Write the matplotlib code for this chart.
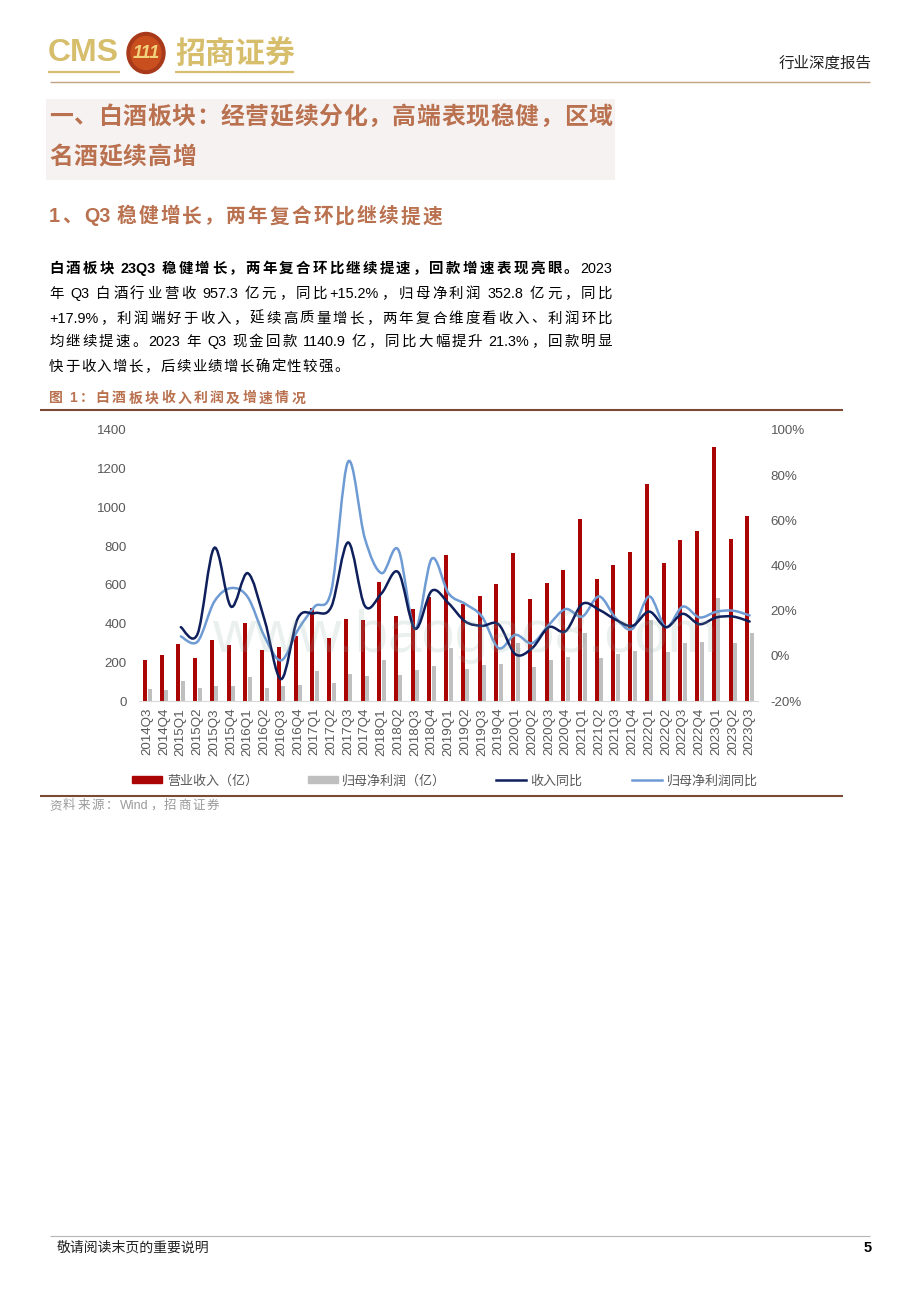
import re
import numpy as np
import matplotlib
matplotlib.use("Agg")
import matplotlib.pyplot as plt
from matplotlib.lines import Line2D
from matplotlib.patches import Ellipse, Patch, PathPatch, Rectangle
from matplotlib.path import Path

plt.rcParams['font.family'] = ['Liberation Sans', 'Noto Sans CJK SC', 'DejaVu Sans']

quarters = ['2014Q3', '2014Q4', '2015Q1', '2015Q2', '2015Q3', '2015Q4', '2016Q1', '2016Q2',
            '2016Q3', '2016Q4', '2017Q1', '2017Q2', '2017Q3', '2017Q4', '2018Q1', '2018Q2',
            '2018Q3', '2018Q4', '2019Q1', '2019Q2', '2019Q3', '2019Q4', '2020Q1', '2020Q2',
            '2020Q3', '2020Q4', '2021Q1', '2021Q2', '2021Q3', '2021Q4', '2022Q1', '2022Q2',
            '2022Q3', '2022Q4', '2023Q1', '2023Q2', '2023Q3']
revenue = [212, 236, 295, 222, 313, 289, 403, 263, 281, 336, 479, 324, 424, 417, 613, 441,
           475, 535, 754, 501, 541, 606, 763, 527, 608, 675, 938, 630, 701, 768, 1121, 711,
           830, 876, 1312, 837, 957]
profit = [62, 57, 103, 67, 77, 76, 126, 69, 77, 84, 155, 91, 141, 129, 213, 134,
          160, 182, 274, 165, 186, 189, 300, 176, 212, 227, 351, 222, 244, 258, 420, 251,
          298, 303, 534, 300, 353]
# 同比从 2015Q1 开始
revenue_yoy = [12.7, 9.7, 47.8, 21.8, 36.6, 16.0, -10.3, 16.7, 18.9, 21.8, 50.2, 22.1, 27.7,
               37.0, 12.0, 28.8, 23.3, 15.2, 13.3, 13.9, 0.7, 3.4, 12.7, 10.9, 23.0, 20.4,
               16.0, 13.3, 19.6, 12.7, 18.6, 14.0, 17.0, 17.4, 15.2]
profit_yoy = [8.6, 6.3, 24.0, 30.0, 26.0, 8.6, -2.0, 11.5, 21.8, 29.0, 86.0, 52.0, 36.6,
              47.0, 12.0, 43.0, 27.7, 23.0, 17.4, 3.4, 9.3, 5.6, 13.7, 20.7, 17.4, 26.3,
              16.7, 12.0, 26.3, 12.7, 21.8, 17.0, 19.5, 20.0, 17.9]
left_ticks = [0, 200, 400, 600, 800, 1000, 1200, 1400]
right_ticks = [-20, 0, 20, 40, 60, 80, 100]

RED = '#AA0404'
GRAY = '#BFBFBF'
NAVY = '#0E1F5C'
BLUE = '#6E9BD3'
TICK = '#595959'
HEAD = '#B9714F'
GOLD = '#D6BE6C'
RULE = '#7A4A35'


def smooth_path(xs, ys):
    # 类似 Excel 的平滑线，只影响线段形状
    pts = np.column_stack([xs, ys])
    verts = [pts[0]]
    codes = [Path.MOVETO]
    for i in range(len(pts) - 1):
        prev = pts[max(i - 1, 0)]
        nxt = pts[min(i + 2, len(pts) - 1)]
        verts += [pts[i] + (pts[i + 1] - prev) / 6, pts[i + 1] - (nxt - pts[i]) / 6, pts[i + 1]]
        codes += [Path.CURVE4] * 3
    return Path(verts, codes)


fig = plt.figure(figsize=(9.2, 13.02), dpi=100)

# 页面元素用像素坐标
page = fig.add_axes([0, 0, 1, 1], zorder=-1)
page.set_xlim(0, 920)
page.set_ylim(1302, 0)
page.axis('off')


def rule(x0, x1, y, color, lw):
    page.plot([x0, x1], [y, y], color=color, lw=lw, solid_capstyle='butt')


def spaced_line(parts, x0, x1, y, size, color='black'):
    """parts: [(文字, 粗细)]，两端对齐，y 为行中线"""
    renderer = fig.canvas.get_renderer()
    px = size * 100 / 72
    base = y + px * 0.32
    items = []
    for s, weight in parts:
        for tok in re.findall(r'[A-Za-z0-9.+%]+|\S| ', s):
            if tok == ' ':
                items.append((None, px * 0.12))
                continue
            t = page.text(0, base, tok, fontsize=size, fontweight=weight, color=color, va='baseline', ha='left')
            items.append((t, t.get_window_extent(renderer).width))
    gap = (x1 - x0 - sum(w for _, w in items)) / max(len(items) - 1, 1)
    x = x0
    for t, w in items:
        if t is not None:
            t.set_x(x)
        x += w + gap


# 页眉
page.text(48, 53, 'CMS', fontsize=23, fontweight='bold', color=GOLD, va='center', ha='left')
page.add_patch(Ellipse((146, 53), 38, 41, color='#A8391A'))
page.add_patch(Ellipse((146, 53), 30, 33, color='#C9501E'))
page.text(146, 53, '111', fontsize=13, fontweight='bold', style='italic', color='#F2D27A', va='center', ha='center')
spaced_line([('招商证券', 'bold')], 175, 294, 53, 21.5, GOLD)
rule(48, 120, 72, GOLD, 1.6)
rule(175, 294, 72, GOLD, 1.6)
page.text(872, 63, '行业深度报告', fontsize=11.2, color='#222222', va='center', ha='right')
rule(50, 870, 82, '#C2A284', 1)

# 标题
page.add_patch(Rectangle((46, 99), 569, 81, color='#F7F2F2', lw=0))
spaced_line([('一、白酒板块：经营延续分化，高端表现稳健，区域', 'bold')], 49, 612, 116, 17.2, HEAD)
spaced_line([('名酒延续高增', 'bold')], 49, 196, 156, 17.2, HEAD)
spaced_line([('1、Q3 稳健增长，两年复合环比继续提速', 'bold')], 49, 442, 216, 14.2, HEAD)

# 正文
spaced_line([('白酒板块 23Q3 稳健增长，两年复合环比继续提速，回款增速表现亮眼。', 'bold'), ('2023', 'normal')], 49, 612, 268, 10.4)
spaced_line([('年 Q3 白酒行业营收 957.3 亿元，同比+15.2%，归母净利润 352.8 亿元，同比', 'normal')], 49, 612, 293, 10.4)
spaced_line([('+17.9%，利润端好于收入，延续高质量增长，两年复合维度看收入、利润环比', 'normal')], 49, 612, 318, 10.4)
spaced_line([('均继续提速。2023 年 Q3 现金回款 1140.9 亿，同比大幅提升 21.3%，回款明显', 'normal')], 49, 612, 341, 10.4)
spaced_line([('快于收入增长，后续业绩增长确定性较强。', 'normal')], 49, 349, 366, 10.4)

# 图注
spaced_line([('图 1：白酒板块收入利润及增速情况', 'bold')], 49, 305, 398, 10, HEAD)
rule(40, 843, 410, RULE, 1.5)
rule(40, 843, 796, RULE, 1.5)
spaced_line([('资料来源：Wind，招商证券', 'normal')], 49, 219, 805, 9, '#9A9A9A')

# 页脚
rule(50, 870, 1236, '#B5B5B5', 0.8)
page.text(57, 1248, '敬请阅读末页的重要说明', fontsize=10, color='#222222', va='center', ha='left')
page.text(872, 1248, '5', fontsize=10.5, fontweight='bold', color='black', va='center', ha='right')

# 主图
W, H = 920, 1302
ax = fig.add_axes([139 / W, 1 - 701 / H, (758 - 139) / W, (701 - 430) / H])
ax.patch.set_alpha(0)
x = np.arange(len(quarters))
ax.bar(x - 0.14, revenue, width=0.24, color=RED, zorder=2)
ax.bar(x + 0.13, profit, width=0.24, color=GRAY, zorder=2)
ax.set_xlim(-0.5, len(quarters) - 0.5)
ax.set_ylim(0, 1400)
ax.set_yticks(left_ticks)
ax.set_xticks(x)
ax.set_xticklabels(quarters, rotation=90)
ax.tick_params(axis='y', length=0, pad=9, labelsize=9.6, labelcolor=TICK)
ax.tick_params(axis='x', length=0, pad=5, labelsize=9.6, labelcolor=TICK)
for side in ['top', 'left', 'right']:
    ax.spines[side].set_visible(False)
ax.spines['bottom'].set_color('#D9D9D9')

ax2 = ax.twinx()
ax2.set_ylim(-20, 100)
ax2.set_yticks(right_ticks)
ax2.set_yticklabels([f'{v}%' for v in right_ticks])
ax2.tick_params(axis='y', length=0, pad=9, labelsize=9.6, labelcolor=TICK)
for side in ['top', 'left', 'right', 'bottom']:
    ax2.spines[side].set_visible(False)
ax2.add_patch(PathPatch(smooth_path(x[2:], profit_yoy), fc='none', ec=BLUE, lw=1.8, capstyle='round', zorder=3))
ax2.add_patch(PathPatch(smooth_path(x[2:], revenue_yoy), fc='none', ec=NAVY, lw=1.8, capstyle='round', zorder=4))

handles = [Patch(color=RED), Patch(color=GRAY), Line2D([], [], color=NAVY, lw=1.8), Line2D([], [], color=BLUE, lw=1.8)]
names = ['营业收入（亿）', '归母净利润（亿）', '收入同比', '归母净利润同比']
leg = fig.legend(handles, names, ncol=4, loc='center', bbox_to_anchor=(445 / W, 1 - 781 / H), frameon=False,
                 fontsize=9.4, labelcolor=TICK, handlelength=2.3, handleheight=0.45, handletextpad=0.35,
                 columnspacing=3.8, borderpad=0)

# 水印
fig.text(465 / W, 1 - 636 / H, 'www.baogao8.com', fontsize=43, color='#8FAFA5', alpha=0.18, ha='center', va='center', zorder=5)

fig.savefig('out.png', dpi=100)
